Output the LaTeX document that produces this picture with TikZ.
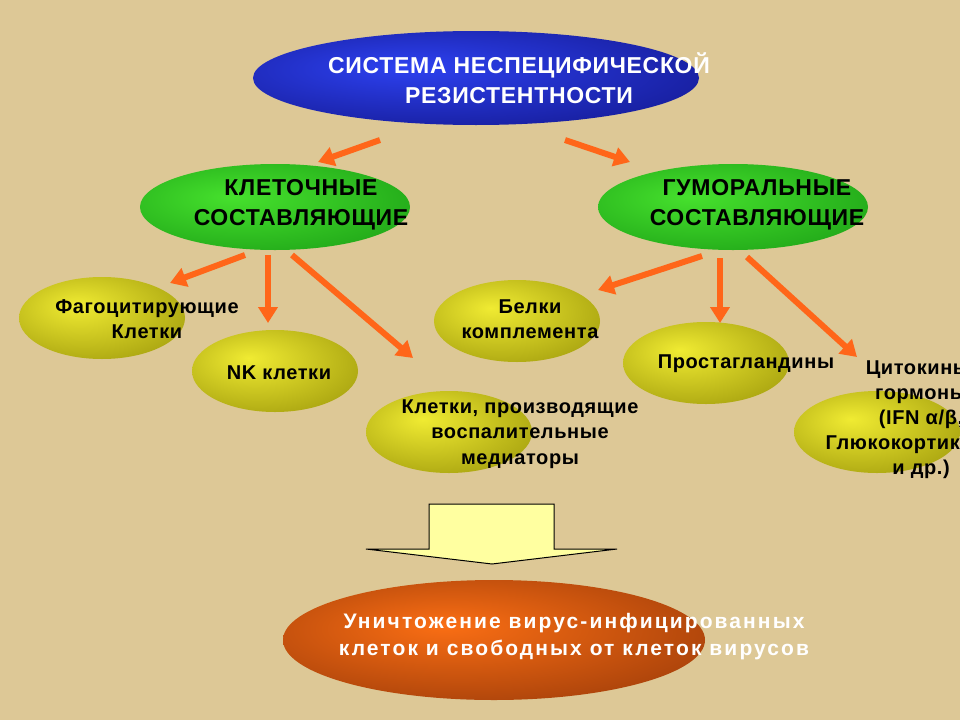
\documentclass[tikz,border=0pt]{standalone}
\usepackage{fontspec}
\setmainfont{Liberation Sans}[LetterSpace=3.0]
\usetikzlibrary{arrows.meta,shapes.geometric}

\definecolor{parchment}{RGB}{221,200,150}
\definecolor{arrowor}{RGB}{255,102,25}
\definecolor{paleyellow}{RGB}{255,255,160}
% glow of the ovals, light a bit up and left of the middle
\pgfdeclareradialshading{blueglow}{\pgfpoint{-8bp}{6bp}}{color(0bp)=(rgb,255:red,45;green,65;blue,240); color(50bp)=(rgb,255:red,12;green,12;blue,115); color(70bp)=(rgb,255:red,12;green,12;blue,115)}
\pgfdeclareradialshading{greenglow}{\pgfpoint{-8bp}{6bp}}{color(0bp)=(rgb,255:red,70;green,225;blue,45); color(50bp)=(rgb,255:red,15;green,140;blue,15); color(70bp)=(rgb,255:red,15;green,140;blue,15)}
\pgfdeclareradialshading{yellowglow}{\pgfpoint{-8bp}{8bp}}{color(0bp)=(rgb,255:red,240;green,235;blue,50); color(50bp)=(rgb,255:red,135;green,130;blue,0); color(70bp)=(rgb,255:red,135;green,130;blue,0)}
\pgfdeclareradialshading{orangeglow}{\pgfpoint{-6bp}{6bp}}{color(0bp)=(rgb,255:red,250;green,110;blue,20); color(50bp)=(rgb,255:red,125;green,42;blue,5); color(70bp)=(rgb,255:red,125;green,42;blue,5)}

\begin{document}
\begin{tikzpicture}[x=1pt, y=-1pt,
    oval/.style = {ellipse, inner sep=0pt},
    blueoval/.style = {oval, shading=blueglow, minimum width=446pt, minimum height=94pt},
    greenoval/.style = {oval, shading=greenglow, minimum width=270pt, minimum height=86pt},
    yellowoval/.style = {oval, shading=yellowglow, minimum width=166pt, minimum height=82pt},
    orangeoval/.style = {oval, shading=orangeglow, minimum width=422pt, minimum height=120pt},
    bigtext/.style = {align=center, font=\bfseries\fontsize{23}{30}\selectfont},
    midtext/.style = {align=center, font=\bfseries\fontsize{23}{30}\selectfont},
    smalltext/.style = {align=center, font=\bfseries\fontsize{20}{25.5}\selectfont},
    orarrow/.style = {draw=arrowor, line width=6pt, -{Triangle[length=16pt,width=19pt]}}]
    \useasboundingbox (0,0) rectangle (960,720);
    \clip (0,0) rectangle (960,720);
    \fill[parchment] (0,0) rectangle (960,720);

    % top
    \node[blueoval] (sys) at (476,78) {};
    \node[bigtext, white] (systext) at (519,78) {СИСТЕМА НЕСПЕЦИФИЧЕСКОЙ\\РЕЗИСТЕНТНОСТИ};

    % two branches
    \node[greenoval] (cell) at (275,207) {};
    \node[midtext] (celltext) at (301,205) {КЛЕТОЧНЫЕ\\СОСТАВЛЯЮЩИЕ};
    \node[greenoval] (hum) at (733,207) {};
    \node[midtext] (humtext) at (757,205) {ГУМОРАЛЬНЫЕ\\СОСТАВЛЯЮЩИЕ};

    % cell part
    \node[yellowoval] (phag) at (102,318) {};
    \node[smalltext] (phagtext) at (147,319) {Фагоцитирующие\\Клетки};
    \node[yellowoval] (nk) at (275,371) {};
    \node[smalltext] (nktext) at (279,373) {NK клетки};
    \node[yellowoval] (infl) at (449,432) {};
    \node[smalltext] (infltext) at (520,434) {Клетки, производящие\\воспалительные\\медиаторы};

    % humoral part
    \node[yellowoval] (compl) at (517,321) {};
    \node[smalltext] (compltext) at (530,319) {Белки\\комплемента};
    \node[yellowoval] (prost) at (706,363) {};
    \node[smalltext] (prosttext) at (746,364) {Простагландины};
    \node[yellowoval] (cyto) at (877,432) {};
    \node[smalltext, font=\bfseries\fontsize{20}{25}\selectfont] (cytotext) at (921,420)
        {Цитокины,\\гормоны\\(IFN α/β,\\Глюкокортикоиды\\и др.)};

    % arrows
    \coordinate (s1) at (380,140); \coordinate (e1) at (318,162);
    \coordinate (s2) at (565,140); \coordinate (e2) at (630,162);
    \coordinate (s3) at (245,255); \coordinate (e3) at (170,283);
    \coordinate (s4) at (268,255); \coordinate (e4) at (268,323);
    \coordinate (s5) at (292,255); \coordinate (e5) at (413,358);
    \coordinate (s6) at (702,256); \coordinate (e6) at (598,290);
    \coordinate (s7) at (720,258); \coordinate (e7) at (720,323);
    \coordinate (s8) at (747,257); \coordinate (e8) at (857,357);
    \foreach \i in {1,...,8}
        \draw[orarrow] (s\i) -- (e\i);

    % block arrow down
    \draw[fill=paleyellow, line width=1pt] (429,504) -- (554,504) -- (554,549) -- (617,549)
        -- (492,564) -- (366,549) -- (429,549) -- cycle;

    % result
    \node[orangeoval] (result) at (494,640) {};
    \node[white, align=center, font=\bfseries\fontsize{21}{27}\selectfont\addfontfeature{LetterSpace=10.0}] (resulttext) at (574,637)
        {Уничтожение вирус-инфицированных\\клеток и свободных от клеток вирусов};
\end{tikzpicture}
\end{document}
